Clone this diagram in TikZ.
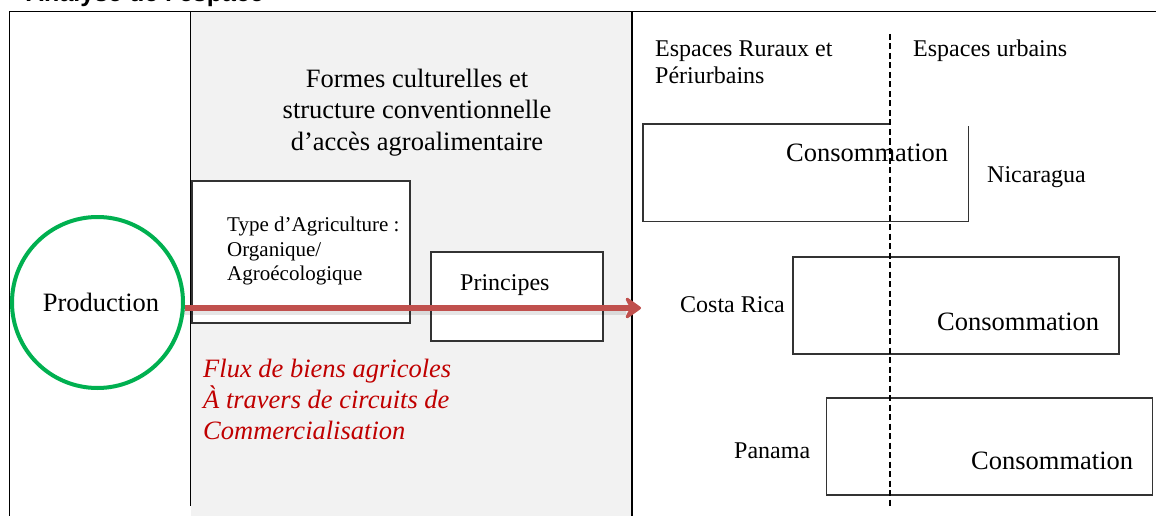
\documentclass[tikz,border=0pt]{standalone}
\usepackage{fontspec}
\setmainfont{Liberation Serif}
\newfontfamily\hdrfont{Liberation Sans}
\usetikzlibrary{arrows.meta}
\definecolor{panelgrey}{HTML}{F2F2F2}
\definecolor{arrowred}{HTML}{C0504D}
\definecolor{textred}{HTML}{C00000}
\definecolor{prodgreen}{HTML}{00B050}
\tikzset{
  big/.style={font=\rmfamily\fontsize{26.5}{31}\selectfont, inner sep=0pt},
  mid/.style={font=\rmfamily\fontsize{24}{27}\selectfont, inner sep=0pt},
  small/.style={font=\rmfamily\fontsize{21}{24.5}\selectfont, inner sep=0pt},
  redtxt/.style={font=\rmfamily\fontsize{26.5}{31}\selectfont\itshape, text=textred, inner sep=0pt},
  sepline/.style={line width=1.8pt, black},
  boxline/.style={draw=black!80, line width=1.2pt, fill=white, rectangle, inner sep=0pt},
  flow/.style={line width=6pt, arrowred, -{Stealth[length=19pt, width=27pt, inset=7pt, round]}},
  urbanline/.style={line width=2pt, black, dash pattern=on 6pt off 3.5pt},
}
\begin{document}
\begin{tikzpicture}[x=1pt, y=-1pt]
\useasboundingbox (0,0) rectangle (1156,516);
% header (cut off at the top, as in the reference)
\node[font=\hdrfont\bfseries\fontsize{25}{30}\selectfont, anchor=base west, inner sep=0pt] (hdr) at (26,1.5) {Analyse de l’espace};
% grey panel and frame lines
\fill[panelgrey] (191,11.5) rectangle (632,516);
\coordinate (tl) at (9.5,11.5);
\coordinate (tr) at (1156,11.5);
\coordinate (bl) at (9.5,516);
\coordinate (m1t) at (190.5,11.5);
\coordinate (m1b) at (190.5,506);
\coordinate (m2t) at (632,11.5);
\coordinate (m2b) at (632,516);
\draw[sepline] (tl) -- (tr);
\draw[sepline] (tl) -- (bl);
\draw[sepline] (m1t) -- (m1b);
\draw[sepline] (m2t) -- (m2b);
% boxes in grey panel
\node[boxline, minimum width=218pt, minimum height=142pt] (typebox) at (301,252) {};
\node[boxline, minimum width=172pt, minimum height=89pt] (princbox) at (517,296.5) {};
% consumption boxes
\coordinate (n1) at (890,124);
\coordinate (n2) at (643,124);
\coordinate (n3) at (643,221.5);
\coordinate (n4) at (968.5,221.5);
\coordinate (n5) at (968.5,126);
\draw[draw=black!80, line width=1.2pt] (n1) -- (n2) -- (n3) -- (n4) -- (n5);
\node[boxline, fill=none, minimum width=326pt, minimum height=97pt] (crbox) at (956,305.5) {};
\node[boxline, fill=none, minimum width=326pt, minimum height=97pt] (pabox) at (989.5,446.5) {};
% dashed rural / urban boundary
\coordinate (dtop) at (890,34);
\coordinate (dbot) at (890,507);
\draw[urbanline] (dtop) -- (dbot);
% production circle
\node[circle, draw=prodgreen, line width=4pt, minimum size=171pt, inner sep=0pt, big] (prod) at (97.5,302.5) {};
\node[big, anchor=base] (prodtxt) at (101,311) {Production};
% flow arrow with faint shadow
\coordinate (tip) at (641,308);
\coordinate (shs) at (184,312);
\coordinate (she) at (626,312);
\draw[line width=5pt, black, opacity=0.10] (shs) -- (she);
\draw[flow] (prod.east |- tip) -- (tip);
% panel texts
\node[big, anchor=base] (f1) at (417,88) {Formes culturelles et};
\node[big, anchor=base] (f2) at (417,119) {structure conventionnelle};
\node[big, anchor=base] (f3) at (417,150) {d’accès agroalimentaire};
\node[small, anchor=base west] (t1) at (227,231.5) {Type d’Agriculture :};
\node[small, anchor=base west] (t2) at (227,256) {Organique/};
\node[small, anchor=base west] (t3) at (227,280.5) {Agroécologique};
\node[mid, anchor=base west] (pr) at (460,290) {Principes};
\node[redtxt, anchor=base west] (r1) at (203,377) {Flux de biens agricoles};
\node[redtxt, anchor=base west] (r2) at (203,408) {À travers de circuits de};
\node[redtxt, anchor=base west] (r3) at (203,439) {Commercialisation};
% right-side texts
\node[mid, anchor=base west] (er1) at (655,57) {Espaces Ruraux et};
\node[mid, anchor=base west] (er2) at (655,84) {Périurbains};
\node[mid, anchor=base west] (eu) at (913,57) {Espaces urbains};
\node[mid, anchor=base west] (nic) at (987,182) {Nicaragua};
\node[mid, anchor=base west] (cr) at (680,312) {Costa Rica};
\node[mid, anchor=base west] (pa) at (734,458) {Panama};
\node[big, anchor=base west] (c1) at (786,161) {Consommation};
\node[big, anchor=base west] (c2) at (937,330) {Consommation};
\node[big, anchor=base west] (c3) at (971,469) {Consommation};
\end{tikzpicture}
\end{document}
